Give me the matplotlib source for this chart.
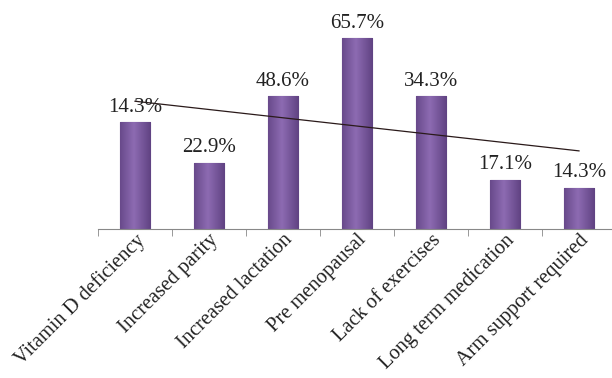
import matplotlib
matplotlib.use("Agg")
import matplotlib.pyplot as plt
import numpy as np

categories = ["Vitamin D deficiency", "Increased parity", "Increased lactation",
              "Pre menopausal", "Lack of exercises", "Long term medication",
              "Arm support required"]
bar_heights = [37.0, 22.9, 45.8, 65.7, 45.8, 17.1, 14.3]
value_labels = ["14.3%", "22.9%", "48.6%", "65.7%", "34.3%", "17.1%", "14.3%"]

plt.rcParams['font.family'] = ['Liberation Serif', 'DejaVu Serif']

fig = plt.figure(figsize=(6.12, 3.78), dpi=100)
W, H = 612, 378
x0, x1 = 98, 616
base, scale = 229.3, 2.907
ymax = 70
ax = fig.add_axes([x0 / W, (H - base) / H, (x1 - x0) / W, ymax * scale / H])

x = np.arange(len(categories))
bars = ax.bar(x, bar_heights, width=0.41, color="#7b5a9f", edgecolor="#4f3470",
              linewidth=0.8, zorder=2)

# simple bevel gradient on each bar
grad = np.linspace(0, 1, 64)
prof = 1 - np.abs(grad - 0.45) * 1.6
cmap = matplotlib.colors.LinearSegmentedColormap.from_list("p", ["#5a3d7c", "#8d6bb2"])
for b in bars:
    bx, by = b.get_x(), b.get_y()
    bw, bh = b.get_width(), b.get_height()
    im = ax.imshow(prof[None, :], extent=[bx, bx + bw, by, by + bh], aspect="auto",
                   cmap=cmap, vmin=0, vmax=1, zorder=2.1)
    im.set_clip_path(b)

# linear trendline
coef = np.polyfit(x, bar_heights, 1)
ax.plot(x, np.polyval(coef, x), color="#2a1a1a", linewidth=0.9, zorder=3)

for xi, h, lab in zip(x, bar_heights, value_labels):
    ax.text(xi, h + 1.8, lab, ha="center", va="bottom", fontsize=15, color="#222222", zorder=4)

ax.set_xlim(-0.5, len(categories) - 0.5)
ax.set_ylim(0, ymax)
ax.set_yticks([])
for s in ["top", "right", "left"]:
    ax.spines[s].set_visible(False)
ax.spines["bottom"].set_color("#888888")
ax.set_xticks(x)
ax.set_xticklabels(categories, rotation=45, ha="right", rotation_mode="anchor",
                   fontsize=14.8, color="#222222")
ax.tick_params(axis="x", which="major", length=0, pad=1)
ax.set_xticks(np.arange(len(categories)) - 0.5, minor=True)
ax.tick_params(axis="x", which="minor", length=5, color="#888888")

fig.savefig("out.png", dpi=100)
